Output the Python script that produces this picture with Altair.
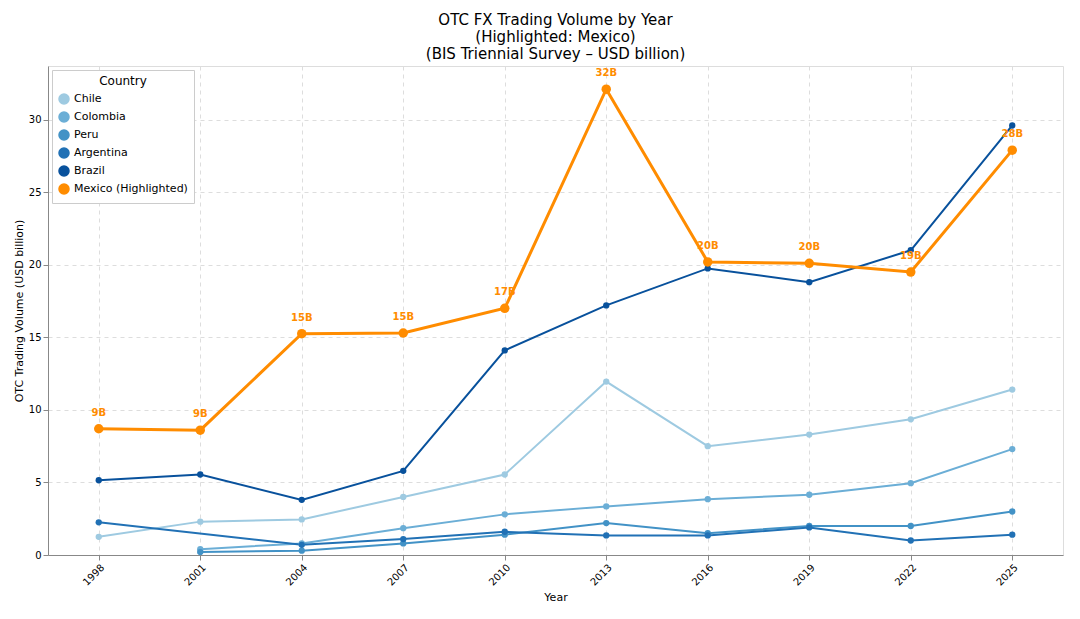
import altair as alt
import pandas as pd

years = [1998, 2001, 2004, 2007, 2010, 2013, 2016, 2019, 2022, 2025]
chile = [1.25, 2.3, 2.45, 4.0, 5.55, 11.95, 7.5, 8.3, 9.35, 11.4]
colombia = [None, 0.4, 0.8, 1.85, 2.8, 3.35, 3.85, 4.15, 4.95, 7.3]
peru = [None, 0.2, 0.3, 0.8, 1.4, 2.2, 1.5, 2.0, 2.0, 3.0]
argentina = [2.25, None, 0.7, 1.1, 1.6, 1.35, 1.35, 1.9, 1.0, 1.4]
brazil = [5.15, 5.55, 3.8, 5.8, 14.1, 17.2, 19.75, 18.8, 21.0, 29.6]
mexico = [8.7, 8.6, 15.25, 15.3, 17.0, 32.1, 20.2, 20.1, 19.5, 27.9]
mexico_labels = ["9B", "9B", "15B", "15B", "17B", "32B", "20B", "20B", "19B", "28B"]

names = ["Chile", "Colombia", "Peru", "Argentina", "Brazil", "Mexico (Highlighted)"]
colors = ["#9ecae1", "#6baed6", "#4292c6", "#2171b5", "#08519c", "#ff8c00"]
series = [chile, colombia, peru, argentina, brazil, mexico]

rows = []
for name, vals in zip(names, series):
    for y, v in zip(years, vals):
        if v is not None:
            rows.append({"Year": str(y), "Country": name, "Volume": v})
df = pd.DataFrame(rows)
lab = pd.DataFrame({"Year": [str(y) for y in years], "Volume": mexico, "Label": mexico_labels})

x = alt.X("Year:O", title="Year", sort=[str(y) for y in years],
          scale=alt.Scale(paddingOuter=0.3),
          axis=alt.Axis(labelAngle=-45, labelAlign="right", labelBaseline="top", grid=True,
                        gridDash=[4, 4], gridColor="#dddddd", titleFontWeight="normal"))
y = alt.Y("Volume:Q", title="OTC Trading Volume (USD billion)",
          scale=alt.Scale(domain=[0, 33.7], nice=False),
          axis=alt.Axis(values=[0, 5, 10, 15, 20, 25, 30], gridDash=[4, 4], gridColor="#dddddd",
                        titleFontWeight="normal"))
color = alt.Color("Country:N", sort=names, scale=alt.Scale(domain=names, range=colors),
                  legend=alt.Legend(title="Country", orient="top-left", fillColor="white",
                                    strokeColor="#cccccc", padding=6, titleFontWeight="normal",
                                    titleFontSize=12, labelFontSize=11, titleAnchor="middle",
                                    offset=4, rowPadding=2))

others = alt.Chart(df).transform_filter(alt.datum.Country != "Mexico (Highlighted)").mark_line(
    point=alt.OverlayMarkDef(size=40, filled=True), strokeWidth=2
).encode(x=x, y=y, color=color)

mex = alt.Chart(df).transform_filter(alt.datum.Country == "Mexico (Highlighted)").mark_line(
    point=alt.OverlayMarkDef(size=90, filled=True), strokeWidth=3
).encode(x=x, y=y, color=color)

text = alt.Chart(lab).mark_text(dy=-16, color="#ff8c00", fontWeight="bold", fontSize=10).encode(
    x=alt.X("Year:O", sort=[str(y) for y in years]), y="Volume:Q", text="Label:N")

chart = alt.layer(others, mex, text).properties(
    width=1060, height=600,
    autosize=alt.AutoSizeParams(type="fit", contains="padding"),
    title=alt.TitleParams(["OTC FX Trading Volume by Year", "(Highlighted: Mexico)",
                           "(BIS Triennial Survey – USD billion)"],
                          fontSize=15, fontWeight="normal", anchor="middle"),
).configure_view(stroke="black").configure_axis(
    labelFontSize=10, titleFontSize=12, titleFontWeight="normal", domainColor="black", tickColor="black"
).configure(font="DejaVu Sans")

chart.save("out.html", embed_options={"renderer": "svg", "actions": False})
